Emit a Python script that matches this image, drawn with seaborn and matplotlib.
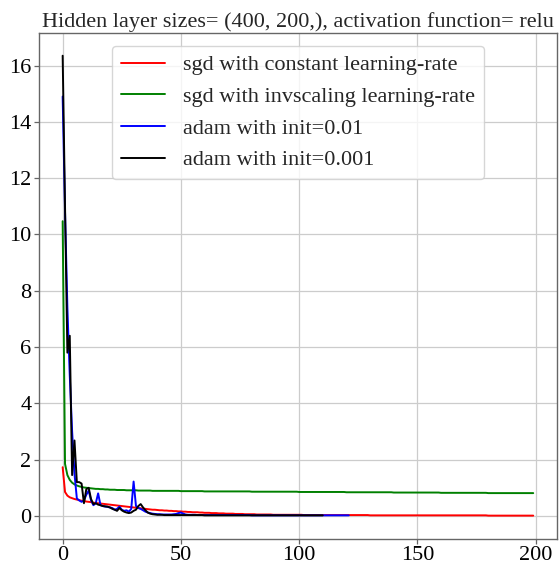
import matplotlib
matplotlib.use("Agg")
import matplotlib.pyplot as plt
import seaborn as sns
import pandas as pd

# Training loss per iteration for each solver configuration
labels = [
    "sgd with constant learning-rate",
    "sgd with invscaling learning-rate",
    "adam with init=0.01",
    "adam with init=0.001",
]
colors = ["red", "green", "blue", "black"]

loss_sgd_constant = [
    1.73, 0.85, 0.72, 0.66, 0.63, 0.60, 0.58, 0.56, 0.54, 0.53,
    0.51, 0.50, 0.49, 0.47, 0.46, 0.45, 0.44, 0.43, 0.42, 0.41,
    0.40, 0.39, 0.38, 0.37, 0.36, 0.35, 0.34, 0.33, 0.32, 0.31,
    0.30, 0.29, 0.28, 0.27, 0.26, 0.25, 0.24, 0.23, 0.22, 0.22,
    0.21, 0.20, 0.20, 0.19, 0.19, 0.18, 0.18, 0.17, 0.17, 0.16,
    0.16, 0.15, 0.15, 0.14, 0.14, 0.13, 0.13, 0.13, 0.12, 0.12,
    0.11, 0.11, 0.11, 0.10, 0.10, 0.10, 0.09, 0.09, 0.09, 0.08,
    0.08, 0.08, 0.08, 0.07, 0.07, 0.07, 0.07, 0.06, 0.06, 0.06,
    0.06, 0.06, 0.05, 0.05, 0.05, 0.05, 0.05, 0.05, 0.05, 0.04,
    0.04, 0.04, 0.04, 0.04, 0.04, 0.04, 0.04, 0.04, 0.04, 0.04,
    0.04, 0.04, 0.03, 0.03, 0.03, 0.03, 0.03, 0.03, 0.03, 0.03,
    0.03, 0.03, 0.03, 0.03, 0.03, 0.03, 0.03, 0.03, 0.03, 0.03,
    0.03, 0.03, 0.03, 0.03, 0.03, 0.03, 0.03, 0.03, 0.03, 0.03,
    0.02, 0.02, 0.02, 0.02, 0.02, 0.02, 0.02, 0.02, 0.02, 0.02,
    0.02, 0.02, 0.02, 0.02, 0.02, 0.02, 0.02, 0.02, 0.02, 0.02,
    0.02, 0.02, 0.02, 0.02, 0.02, 0.02, 0.02, 0.02, 0.02, 0.02,
    0.02, 0.02, 0.02, 0.02, 0.02, 0.02, 0.02, 0.02, 0.02, 0.02,
    0.02, 0.02, 0.02, 0.02, 0.02, 0.02, 0.02, 0.02, 0.02, 0.02,
    0.01, 0.01, 0.01, 0.01, 0.01, 0.01, 0.01, 0.01, 0.01, 0.01,
    0.01, 0.01, 0.01, 0.01, 0.01, 0.01, 0.01, 0.01, 0.01, 0.01,
]

loss_sgd_invscaling = [
    10.47, 1.85, 1.45, 1.28, 1.18, 1.12, 1.08, 1.05, 1.03, 1.01,
    1.00, 0.99, 0.98, 0.97, 0.96, 0.96, 0.95, 0.95, 0.94, 0.94,
    0.93, 0.93, 0.93, 0.92, 0.92, 0.92, 0.92, 0.91, 0.91, 0.91,
    0.91, 0.91, 0.90, 0.90, 0.90, 0.90, 0.90, 0.90, 0.89, 0.89,
    0.89, 0.89, 0.89, 0.89, 0.89, 0.89, 0.89, 0.89, 0.89, 0.89,
    0.88, 0.88, 0.88, 0.88, 0.88, 0.88, 0.88, 0.88, 0.88, 0.88,
    0.87, 0.87, 0.87, 0.87, 0.87, 0.87, 0.87, 0.87, 0.87, 0.87,
    0.87, 0.87, 0.87, 0.87, 0.87, 0.87, 0.87, 0.87, 0.87, 0.87,
    0.86, 0.86, 0.86, 0.86, 0.86, 0.86, 0.86, 0.86, 0.86, 0.86,
    0.86, 0.86, 0.86, 0.86, 0.86, 0.86, 0.86, 0.86, 0.86, 0.86,
    0.85, 0.85, 0.85, 0.85, 0.85, 0.85, 0.85, 0.85, 0.85, 0.85,
    0.85, 0.85, 0.85, 0.85, 0.85, 0.85, 0.85, 0.85, 0.85, 0.85,
    0.84, 0.84, 0.84, 0.84, 0.84, 0.84, 0.84, 0.84, 0.84, 0.84,
    0.84, 0.84, 0.84, 0.84, 0.84, 0.84, 0.84, 0.84, 0.84, 0.84,
    0.83, 0.83, 0.83, 0.83, 0.83, 0.83, 0.83, 0.83, 0.83, 0.83,
    0.83, 0.83, 0.83, 0.83, 0.83, 0.83, 0.83, 0.83, 0.83, 0.83,
    0.82, 0.82, 0.82, 0.82, 0.82, 0.82, 0.82, 0.82, 0.82, 0.82,
    0.82, 0.82, 0.82, 0.82, 0.82, 0.82, 0.82, 0.82, 0.82, 0.82,
    0.81, 0.81, 0.81, 0.81, 0.81, 0.81, 0.81, 0.81, 0.81, 0.81,
    0.81, 0.81, 0.81, 0.81, 0.81, 0.81, 0.81, 0.81, 0.81, 0.81,
]

loss_adam_001 = [
    14.90, 10.80, 7.40, 5.00, 3.00, 1.50, 0.62, 0.55, 0.50, 0.55,
    0.75, 0.90, 0.55, 0.38, 0.45, 0.80, 0.38, 0.35, 0.33, 0.32,
    0.30, 0.28, 0.22, 0.25, 0.33, 0.22, 0.18, 0.20, 0.15, 0.25,
    1.22, 0.35, 0.28, 0.25, 0.20, 0.15, 0.12, 0.10, 0.08, 0.07,
    0.06, 0.06, 0.05, 0.05, 0.05, 0.05, 0.05, 0.06, 0.07, 0.10,
    0.12, 0.08, 0.05, 0.04, 0.04, 0.04, 0.04, 0.03, 0.03, 0.03,
    0.03, 0.03, 0.03, 0.03, 0.03, 0.03, 0.03, 0.03, 0.03, 0.03,
    0.03, 0.03, 0.03, 0.03, 0.03, 0.03, 0.03, 0.03, 0.03, 0.03,
    0.02, 0.02, 0.02, 0.02, 0.02, 0.02, 0.02, 0.02, 0.02, 0.02,
    0.02, 0.02, 0.02, 0.02, 0.02, 0.02, 0.02, 0.02, 0.02, 0.02,
    0.02, 0.02, 0.02, 0.02, 0.02, 0.02, 0.02, 0.02, 0.02, 0.02,
    0.02, 0.02, 0.02, 0.02, 0.02, 0.02, 0.02, 0.02, 0.02, 0.02,
    0.02, 0.02,
]

loss_adam_0001 = [
    16.35, 11.00, 5.80, 6.40, 1.45, 2.68, 1.20, 1.20, 1.15, 0.45,
    0.95, 1.00, 0.60, 0.42, 0.45, 0.40, 0.38, 0.35, 0.34, 0.33,
    0.30, 0.25, 0.22, 0.18, 0.28, 0.20, 0.15, 0.12, 0.10, 0.12,
    0.18, 0.22, 0.35, 0.42, 0.30, 0.20, 0.12, 0.08, 0.06, 0.05,
    0.04, 0.04, 0.04, 0.03, 0.03, 0.03, 0.03, 0.03, 0.03, 0.03,
    0.03, 0.03, 0.03, 0.03, 0.03, 0.03, 0.03, 0.03, 0.03, 0.03,
    0.02, 0.02, 0.02, 0.02, 0.02, 0.02, 0.02, 0.02, 0.02, 0.02,
    0.02, 0.02, 0.02, 0.02, 0.02, 0.02, 0.02, 0.02, 0.02, 0.02,
    0.02, 0.02, 0.02, 0.02, 0.02, 0.02, 0.02, 0.02, 0.02, 0.02,
    0.02, 0.02, 0.02, 0.02, 0.02, 0.02, 0.02, 0.02, 0.02, 0.02,
    0.02, 0.02, 0.02, 0.02, 0.02, 0.02, 0.02, 0.02, 0.02, 0.02,
    0.02,
]

title = "Hidden layer sizes= (400, 200,), activation function= relu"

series = [loss_sgd_constant, loss_sgd_invscaling, loss_adam_001, loss_adam_0001]
frames = []
for label, values in zip(labels, series):
    frames.append(pd.DataFrame({
        "iteration": range(len(values)),
        "loss": values,
        "solver": label,
    }))
df = pd.concat(frames, ignore_index=True)

sns.set_theme(style="whitegrid")
plt.rcParams["font.family"] = ["Liberation Serif", "DejaVu Serif"]

fig = plt.figure(figsize=(5.59, 5.64), dpi=100)
ax = fig.add_axes([0.070, 0.045, 0.926, 0.897])

sns.lineplot(data=df, x="iteration", y="loss", hue="solver",
             hue_order=labels, palette=colors, linewidth=1.4, ax=ax,
             estimator=None, sort=False)

ax.set_xlabel("")
ax.set_ylabel("")
ax.set_title(title, fontsize=16, pad=4)
ax.set_xticks([0, 50, 100, 150, 200])
ax.set_yticks([0, 2, 4, 6, 8, 10, 12, 14, 16])
ax.margins(x=0.05, y=0.05)

ax.set_facecolor("white")
ax.grid(True, color="#cccccc", linewidth=0.9)
for side in ax.spines.values():
    side.set_color("#666666")
    side.set_linewidth(1.0)
ax.tick_params(axis="both", labelsize=16, length=3.5, width=0.9,
               color="#666666", labelcolor="black", pad=2,
               bottom=True, left=True)

leg = ax.legend(loc="upper center", fontsize=16, frameon=True,
                framealpha=0.8, edgecolor="#cccccc", fancybox=True,
                borderaxespad=0.6)
for line in leg.get_lines():
    line.set_linewidth(1.4)

fig.savefig("out.png", dpi=100, facecolor="white")
